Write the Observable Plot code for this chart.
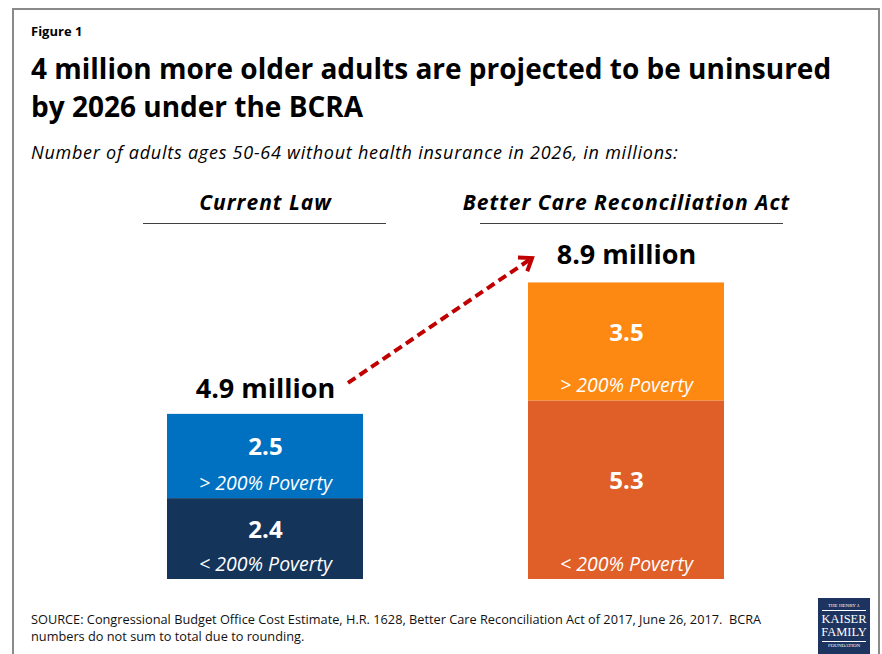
<!DOCTYPE html>
<html>
<head>
<meta charset="utf-8">
<script src="https://cdn.jsdelivr.net/npm/d3@7"></script>
<script src="https://cdn.jsdelivr.net/npm/@observablehq/plot@0.6"></script>
<style>
  html, body { margin: 0; padding: 0; background: #fff; }
  body { width: 882px; height: 654px; position: relative; overflow: hidden; font-family: "Open Sans", sans-serif; color: #000; }
  #frame { position: absolute; left: 12px; top: 8px; width: 864px; height: 700px; border: 2px solid #8a8a8a; border-bottom: none; }
  #fig { position: absolute; left: 31px; top: 22px; font-size: 13px; font-weight: bold; }
  #title { position: absolute; left: 31px; top: 49px; font-size: 28px; font-weight: bold; line-height: 38px; white-space: nowrap; }
  #subtitle { position: absolute; left: 31px; top: 140px; font-size: 18px; letter-spacing: 0.75px; font-style: italic; white-space: nowrap; }
  #chart { position: absolute; left: 0; top: 170px; }
  #source { position: absolute; left: 31px; top: 611px; font-size: 12.75px; line-height: 17px; color: #111; white-space: nowrap; }
  #logo { position: absolute; left: 818px; top: 598px; width: 52px; height: 56px; background: #1d3460; color: #fff; font-family: "Liberation Serif", serif; text-align: center; overflow: hidden; }
  #logo .s { font-size: 5px; line-height: 6px; }
  #logo .b { font-size: 12.5px; line-height: 13px; }
</style>
</head>
<body>
<div id="frame"></div>
<div id="fig">Figure 1</div>
<div id="title">4 million more older adults are projected to be uninsured<br>by 2026 under the BCRA</div>
<div id="subtitle">Number of adults ages 50-64 without health insurance in 2026, in millions:</div>
<div id="chart"></div>
<div id="source">SOURCE: Congressional Budget Office Cost Estimate, H.R. 1628, Better Care Reconciliation Act of 2017, June 26, 2017.&nbsp; BCRA<br>numbers do not sum to total due to rounding.</div>
<div id="logo">
  <div class="s" style="margin-top:5px;border-bottom:0.5px solid #fff;margin-left:4px;margin-right:4px;padding-bottom:1px">THE HENRY J.</div>
  <div class="b" style="margin-top:2px">KAISER</div>
  <div class="b">FAMILY</div>
  <div class="s" style="margin-top:2px;border-top:0.5px solid #fff;margin-left:4px;margin-right:4px;padding-top:1px">FOUNDATION</div>
</div>
<script>
// ---- data ----
const laws = ["Current Law", "Better Care Reconciliation Act"];
const totals = [4.9, 8.9];
const totalLabels = ["4.9 million", "8.9 million"];
const groups = ["< 200% Poverty", "> 200% Poverty"];
const below200 = [2.4, 5.3];
const above200 = [2.5, 3.5];

// ---- styles ----
const colors = {
  "Current Law|< 200% Poverty": "#15345a",
  "Current Law|> 200% Poverty": "#0071c1",
  "Better Care Reconciliation Act|< 200% Poverty": "#e05e27",
  "Better Care Reconciliation Act|> 200% Poverty": "#fd8913"
};
const yTop = 10;

const segments = [];
laws.forEach((law, i) => {
  segments.push({law, group: groups[0], value: below200[i]});
  segments.push({law, group: groups[1], value: above200[i]});
});
const totalRows = laws.map((law, i) => ({law, total: totals[i], label: totalLabels[i]}));

function arrowMark(index, scales) {
  const x = scales.x, y = scales.y;
  const bw = x.bandwidth();
  const x1 = x(laws[0]) + bw - 15, y1 = y(totals[0]) - 31;
  const x2 = x(laws[1]) + 4, y2 = y(totals[1]) - 21;
  const g = d3.create("svg:g");
  const a = Math.atan2(y2 - y1, x2 - x1);
  const L = 14, th = Math.PI / 5;
  g.append("line")
    .attr("x1", x1).attr("y1", y1)
    .attr("x2", x2 - 3 * Math.cos(a)).attr("y2", y2 - 3 * Math.sin(a))
    .attr("stroke", "#c00000").attr("stroke-width", 4)
    .attr("stroke-dasharray", "9,5");
  g.append("path")
    .attr("d", `M${x2 - L * Math.cos(a - th)},${y2 - L * Math.sin(a - th)}L${x2},${y2}L${x2 - L * Math.cos(a + th)},${y2 - L * Math.sin(a + th)}`)
    .attr("fill", "none").attr("stroke", "#c00000").attr("stroke-width", 4)
    .attr("stroke-linejoin", "miter").attr("stroke-linecap", "butt");
  return g.node();
}

const chart = Plot.plot({
  width: 882,
  height: 425,
  marginTop: 72,
  marginBottom: 16,
  marginLeft: 0,
  marginRight: 0,
  style: {fontFamily: "Open Sans, sans-serif", background: "transparent"},
  x: {type: "band", domain: laws, range: [84.5, 806.5], paddingInner: 0.457, paddingOuter: 0.2285, axis: null},
  y: {domain: [0, yTop], axis: null},
  marks: [
    Plot.barY(segments, {
      x: "law", y: "value", order: "data",
      fill: d => colors[d.law + "|" + d.group]
    }),
    Plot.text(segments, Plot.stackY({
      x: "law", y: "value", order: "data",
      text: d => d.value.toFixed(1),
      fill: "white", fontSize: 24, fontWeight: "bold", dy: -9
    })),
    Plot.text(segments, Plot.stackY1({
      x: "law", y: "value", order: "data",
      text: "group",
      fill: "white", fontSize: 19.5, fontStyle: "italic", lineAnchor: "bottom", dy: -9
    })),
    Plot.text(totalRows, {
      x: "law", y: "total", text: "label",
      fontSize: 27, fontWeight: "bold", lineAnchor: "bottom", dy: -16, fill: "black"
    }),
    Plot.text(laws, {
      x: d => d, frameAnchor: "top", text: d => d,
      fontSize: 21, fontWeight: "bold", fontStyle: "italic", lineAnchor: "bottom", dy: -33, fill: "black",
      style: {letterSpacing: "1px"}
    }),
    Plot.tickY([laws[0]], {x: d => d, y: () => yTop, dy: -19, stroke: "#404040", strokeWidth: 1, insetLeft: -24, insetRight: -23}),
    Plot.tickY([laws[1]], {x: d => d, y: () => yTop, dy: -19, stroke: "#404040", strokeWidth: 1, insetLeft: -48, insetRight: -59}),
    arrowMark
  ]
});
chart.querySelectorAll("text").forEach(t => {
  if (t.getAttribute("font-size") === "21") t.setAttribute("letter-spacing", "1px");
});
d3.select(chart).selectAll("g[font-size='21'] text").attr("letter-spacing", "1px");
d3.select(chart).selectAll("g[font-size='21']").attr("letter-spacing", "1px");
document.getElementById("chart").appendChild(chart);
</script>
</body>
</html>
